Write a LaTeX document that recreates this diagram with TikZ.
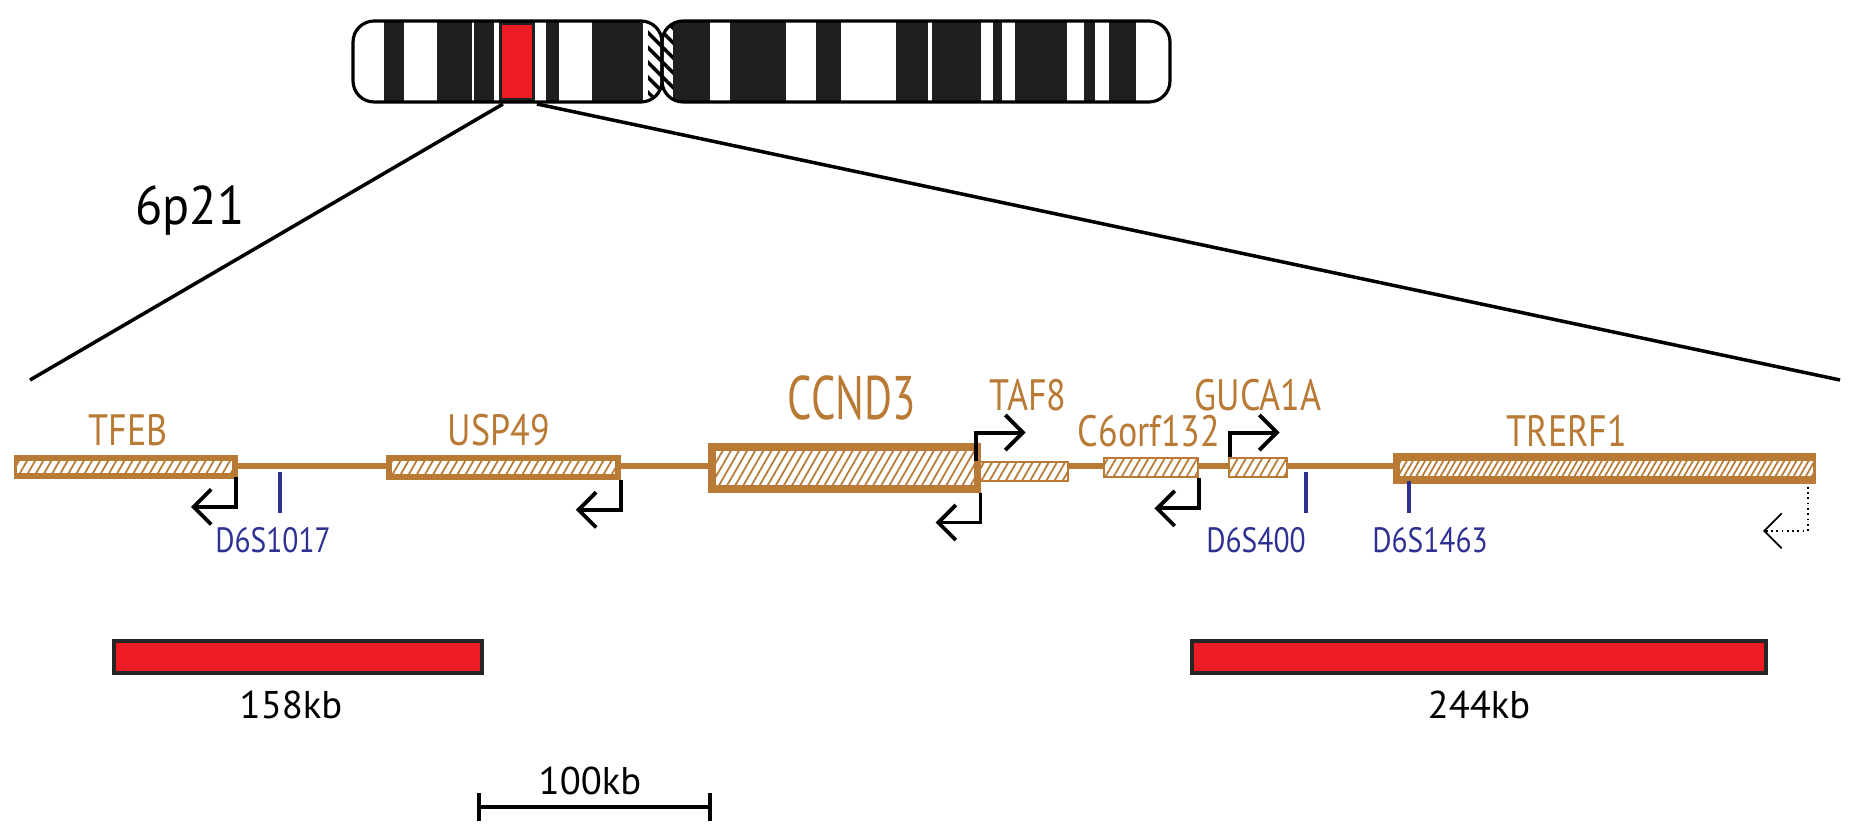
\documentclass[tikz,border=0pt]{standalone}
\usepackage{fontspec}
\setmainfont{PT Sans}
\usetikzlibrary{fit,patterns.meta,calc,arrows.meta}
\definecolor{genebrown}{RGB}{184,122,53}
\definecolor{markerblue}{RGB}{46,49,146}
\definecolor{regionred}{RGB}{237,28,36}
\tikzstyle{gene}=[draw=genebrown,line width=#1,inner sep=0pt,
  pattern={Lines[angle=60,distance=2pt,line width=0.5pt]},pattern color=genebrown]
\tikzstyle{genename}=[text=genebrown,font=\fontsize{12.5}{12.5}\selectfont,xscale=0.82]
\tikzstyle{marker}=[text=markerblue,font=\fontsize{10}{10}\selectfont,xscale=0.84]
\tikzstyle{promoter}=[line width=1.1pt,-{Straight Barb[length=5pt,width=10pt]}]
\tikzstyle{arm}=[line width=0.9pt,rounded corners=6pt]
\newcommand{\genebox}[6]{\node[gene=#6,fit={(#2,#3)(#4,#5)}] (#1) {};}
\newcommand{\stsmarker}[6]{\draw[markerblue,line width=1pt] (#2,#3) -- (#2,#4) coordinate (#1);
  \node[marker] at ($(#1)+(#6,27)$) {#5};}

\begin{document}
\begin{tikzpicture}[x=0.1mm,y=-0.1mm]
    \useasboundingbox (0,0) rectangle (1852,831);
    % chromosome 6
    \begin{scope}
        \clip[rounded corners=6pt] (353,21) rectangle (662,102);
        \foreach \a/\b in {384/404,437/472,474/494,499/535,546/559,592/643}
            \fill[black!88] (\a,21) rectangle (\b,102);
        \fill[regionred] (502,25) rectangle (532,98);
        \fill[pattern={Lines[angle=-45,distance=3pt,line width=1pt]}] (648,21) rectangle (662,102);
    \end{scope}
    \draw[arm] (353,21) rectangle (662,102);
    \begin{scope}
        \clip[rounded corners=6pt] (662,21) rectangle (1170,102);
        \fill[pattern={Lines[angle=-45,distance=3pt,line width=1pt]}] (662,21) rectangle (673,102);
        \foreach \a/\b in {673/710,730/786,816/819,819/841,896/928,932/981,993/1002,1015/1067,1084/1095,1109/1136}
            \fill[black!88] (\a,21) rectangle (\b,102);
    \end{scope}
    \draw[arm] (662,21) rectangle (1170,102);
    \coordinate (bandL) at (503,104);
    \coordinate (bandR) at (537,104);
    \coordinate (zoomL) at (30,380);
    \coordinate (zoomR) at (1840,380);
    \draw[line width=1pt] (bandL) -- (zoomL);
    \draw[line width=1pt] (bandR) -- (zoomR);
    \node[font=\fontsize{15.5}{15.5}\selectfont,xscale=0.92] (band) at (190,211) {6p21};

    % genes
    \genebox{tfeb}{14}{458}{235}{476}{1.6pt}
    \genebox{usp}{389}{458}{618}{477}{1.6pt}
    \genebox{ccnd}{712}{447}{977}{489}{2pt}
    \genebox{taf}{977}{462}{1068}{481}{0.8pt}
    \genebox{corf}{1104}{458}{1198}{477}{0.8pt}
    \genebox{guca}{1229}{458}{1287}{477}{0.8pt}
    \node[gene=2pt,fit={(1396,457)(1816,480)},pattern={Lines[angle=60,distance=1.5pt,line width=0.5pt]}] (trerf) {};
    \fill[white] (0,450) rectangle (14,484);
    \fill[white] (1816,450) rectangle (1830,484);
    \coordinate (axis) at (0,466);
    \foreach \a/\b in {tfeb/usp,usp/ccnd,taf/corf,corf/guca,guca/trerf}
        \draw[genebrown,line width=1.6pt] (\a.east |- axis) -- (\b.west |- axis);
    \node[genename] at (128,430) {TFEB};
    \node[genename] at (499,430) {USP49};
    \node[genename,font=\fontsize{17.5}{17.5}\selectfont,xscale=0.85] at (852,398) {CCND3};
    \node[genename] at (1028,395) {TAF8};
    \node[genename] at (1149,431) {C6orf132};
    \node[genename] at (1258,395) {GUCA1A};
    \node[genename] at (1567,431) {TRERF1};

    % promoters
    \draw[promoter] (tfeb.south east) |- ++(-45,30);
    \draw[promoter] (usp.south east) |- ++(-45,30);
    \draw[promoter] (ccnd.south east) |- ++(-45,30);
    \draw[promoter] (taf.north west) |- ++(50,-28);
    \draw[promoter] (corf.south east) |- ++(-45,30);
    \draw[promoter] ($(guca.north west)+(2,0)$) |- ++(50,-24);
    \draw[promoter,line width=0.5pt,densely dotted] ($(trerf.south east)+(-9,6)$) |- ++(-45,44);

    % markers
    \stsmarker{m1}{280}{472}{513}{D6S1017}{-7}
    \stsmarker{m2}{1306}{472}{513}{D6S400}{-50}
    \stsmarker{m3}{1409}{481}{513}{D6S1463}{21}

    % regions
    \node[draw=black!85,line width=1.2pt,fill=regionred,inner sep=0pt,fit={(114,641)(482,673)}] (reg1) {};
    \node[draw=black!85,line width=1.2pt,fill=regionred,inner sep=0pt,fit={(1192,641)(1766,673)}] (reg2) {};
    \node[font=\fontsize{11}{11}\selectfont] at ($(reg1.south)+(-7,30)$) {158kb};
    \node[font=\fontsize{11}{11}\selectfont] at ($(reg2.south)+(0,30)$) {244kb};

    % scale bar
    \coordinate (sbL) at (477,807);
    \coordinate (sbR) at (712,807);
    \draw[line width=1.2pt,{Bar[width=8pt]}-{Bar[width=8pt]}] (sbL) -- (sbR);
    \node[font=\fontsize{11}{11}\selectfont] at (590,781) {100kb};
\end{tikzpicture}
\end{document}
